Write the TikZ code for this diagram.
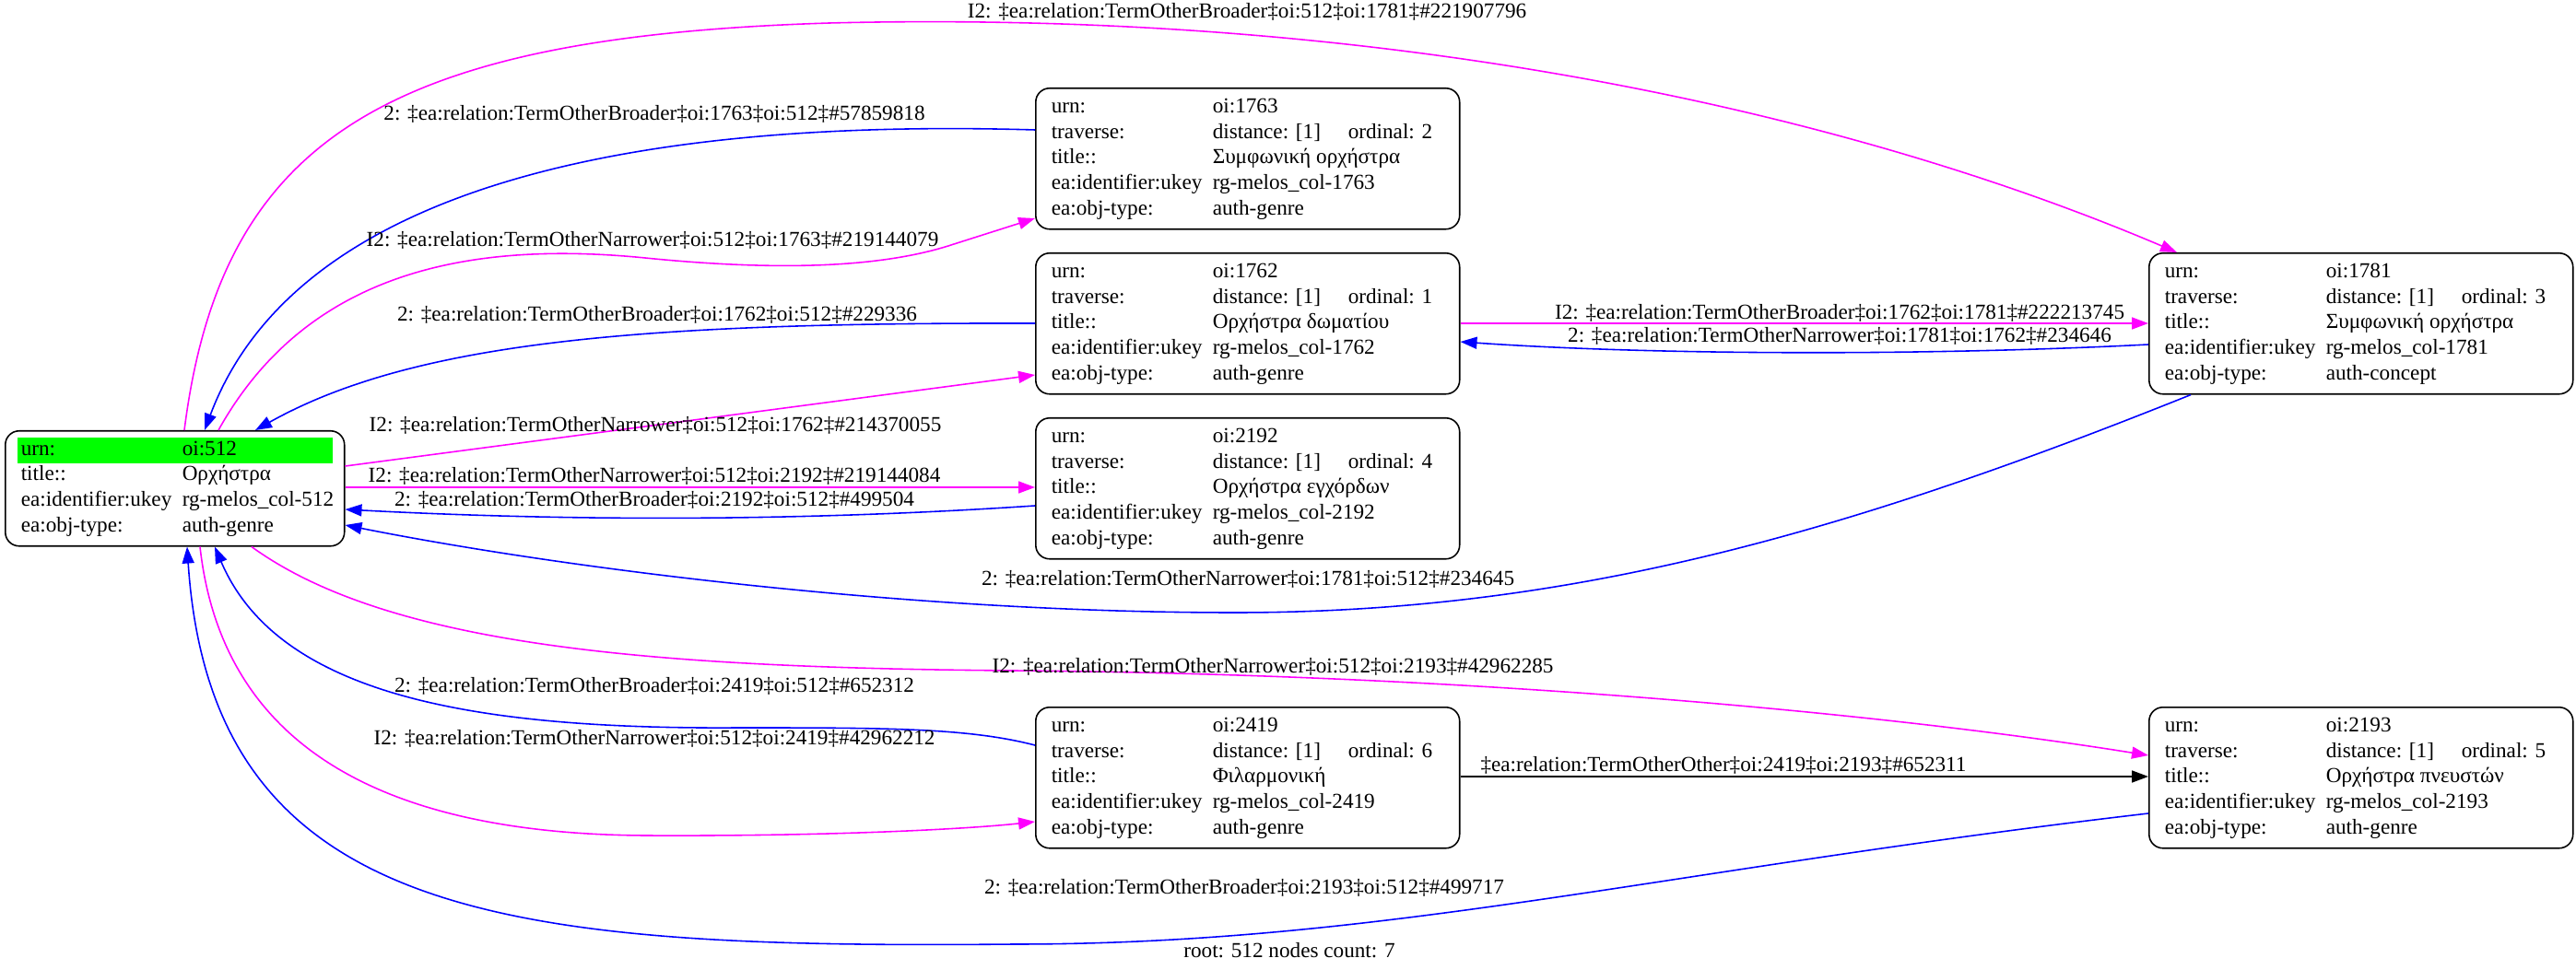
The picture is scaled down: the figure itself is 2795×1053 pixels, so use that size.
\documentclass[tikz,border=0pt]{standalone}
\usepackage{fontspec}
\usepackage{colortbl}
\usetikzlibrary{arrows.meta,calc}
\newfontfamily\recfamily{Liberation Serif}
\newcommand\recfont{\recfamily\fontsize{13.2}{15.8}\selectfont}
\definecolor{hlgreen}{HTML}{00FF00}
\definecolor{narrowc}{HTML}{FF00FF}
\definecolor{broadc}{HTML}{0000FF}
\setlength\tabcolsep{0.08cm}
% rows of one record: urn, ordinal, title, type
\newcommand\recrows[4]{\begin{tabular}{w{l}{3.34cm}w{l}{5.02cm}}
urn: & oi:#1\\
traverse: & \makebox[2.94cm][l]{distance: [1]}ordinal: #2\\
title:: & #3\\
ea:identifier:ukey & rg-melos\_col-#1\\
ea:obj-type: & #4
\end{tabular}}
\begin{document}
\begin{tikzpicture}[x=0.02cm,y=-0.02cm]
	\tikzset{rec/.style = {draw, rounded corners=0.3cm, line width=0.9pt, anchor=north west, inner xsep=0.26cm, inner ysep=0pt, minimum height=3.06cm, font=\recfont}}
	\tikzset{elabel/.style = {font=\recfont, inner sep=0pt}}
	\tikzset{>={Triangle[length=0.36cm,width=0.26cm]}}
	\tikzset{nedge/.style = {->, draw=narrowc, line width=0.9pt}}
	\tikzset{bedge/.style = {->, draw=broadc, line width=0.9pt}}
	\tikzset{oedge/.style = {->, draw=black, line width=0.9pt}}
	\useasboundingbox (0,0) rectangle (2795,1053);
	% records
	\node[rec, minimum height=2.5cm] (root) at (5,467) {\begin{tabular}{w{l}{3.34cm}w{l}{3.18cm}}
		\rowcolor{hlgreen}urn: & oi:512\\
		title:: & Ορχήστρα\\
		ea:identifier:ukey & rg-melos\_col-512\\
		ea:obj-type: & auth-genre
	\end{tabular}};
	\node[rec] (n1763) at (1123,95) {\recrows{1763}{2}{Συμφωνική ορχήστρα}{auth-genre}};
	\node[rec] (n1762) at (1123,274) {\recrows{1762}{1}{Ορχήστρα δωματίου}{auth-genre}};
	\node[rec] (n2192) at (1123,453) {\recrows{2192}{4}{Ορχήστρα εγχόρδων}{auth-genre}};
	\node[rec] (n2419) at (1123,767) {\recrows{2419}{6}{Φιλαρμονική}{auth-genre}};
	\node[rec] (n1781) at (2331,274) {\recrows{1781}{3}{Συμφωνική ορχήστρα}{auth-concept}};
	\node[rec] (n2193) at (2331,767) {\recrows{2193}{5}{Ορχήστρα πνευστών}{auth-genre}};
	% connectors
	\draw[nedge] ($(root.north west)+(195,0)$) .. controls (240,150) and (420,40) .. (900,25) .. controls (1500,10) and (2000,120) .. ($(n1781.north west)+(31,0)$);
	\draw[bedge] ($(n1763.north west)+(0,46)$) .. controls (750,130) and (330,180) .. ($(root.north west)+(217,0)$);
	\draw[nedge] ($(root.north west)+(232,0)$) .. controls (330,300) and (500,260) .. (700,280) .. controls (850,295) and (960,290) .. (1035,265) -- ($(n1763.north west)+(0,142)$);
	\draw[bedge] ($(n1762.north west)+(0,77)$) .. controls (700,350) and (450,370) .. ($(root.north west)+(272,0)$);
	\draw[nedge] ($(root.north east)+(0,39)$) -- ($(n1762.north west)+(0,133)$);
	\draw[nedge] ($(root.north east)+(0,62)$) -- ($(n2192.north west)+(0,76)$);
	\draw[bedge] ($(n2192.north west)+(0,96)$) .. controls (870,566) and (620,566) .. ($(root.north east)+(0,86)$);
	\draw[bedge] ($(n1781.south west)+(46,0)$) .. controls (2000,580) and (1700,665) .. (1340,665) .. controls (980,665) and (600,615) .. ($(root.north east)+(0,103)$);
	\draw[bedge] ($(n1781.north west)+(0,100)$) .. controls (2100,386) and (1800,386) .. ($(n1762.north east)+(0,97)$);
	\draw[nedge] ($(n1762.north east)+(0,77)$) -- ($(n1781.north west)+(0,77)$);
	\draw[nedge] ($(root.south west)+(268,0)$) .. controls (420,700) and (700,725) .. (1100,728) .. controls (1600,732) and (2050,775) .. ($(n2193.north west)+(0,53)$);
	\draw[oedge] ($(n2419.north east)+(0,76)$) -- ($(n2193.north west)+(0,76)$);
	\draw[bedge] ($(n2419.north west)+(0,42)$) .. controls (1050,790) and (960,790) .. (800,790) .. controls (500,792) and (300,750) .. ($(root.south west)+(228,0)$);
	\draw[nedge] ($(root.south west)+(212,0)$) .. controls (240,800) and (400,905) .. (700,907) .. controls (900,908) and (1050,900) .. ($(n2419.north west)+(0,125)$);
	\draw[bedge] ($(n2193.north west)+(0,116)$) .. controls (1800,945) and (1500,1025) .. (1100,1025) .. controls (550,1030) and (230,1000) .. ($(root.south west)+(198,0)$);
	% labels
	\node[elabel] (l1) at (1353,13) {I2: ‡ea:relation:TermOtherBroader‡oi:512‡oi:1781‡\#221907796};
	\node[elabel] (l2) at (710,124) {2: ‡ea:relation:TermOtherBroader‡oi:1763‡oi:512‡\#57859818};
	\node[elabel] (l3) at (708,261) {I2: ‡ea:relation:TermOtherNarrower‡oi:512‡oi:1763‡\#219144079};
	\node[elabel] (l4) at (713,342) {2: ‡ea:relation:TermOtherBroader‡oi:1762‡oi:512‡\#229336};
	\node[elabel] (l5) at (711,462) {I2: ‡ea:relation:TermOtherNarrower‡oi:512‡oi:1762‡\#214370055};
	\node[elabel] (l6) at (710,517) {I2: ‡ea:relation:TermOtherNarrower‡oi:512‡oi:2192‡\#219144084};
	\node[elabel] (l7) at (710,543) {2: ‡ea:relation:TermOtherBroader‡oi:2192‡oi:512‡\#499504};
	\node[elabel] (l8) at (1354,629) {2: ‡ea:relation:TermOtherNarrower‡oi:1781‡oi:512‡\#234645};
	\node[elabel] (l9) at (1996,365) {2: ‡ea:relation:TermOtherNarrower‡oi:1781‡oi:1762‡\#234646};
	\node[elabel] (l10) at (1996,340) {I2: ‡ea:relation:TermOtherBroader‡oi:1762‡oi:1781‡\#222213745};
	\node[elabel] (l11) at (1381,724) {I2: ‡ea:relation:TermOtherNarrower‡oi:512‡oi:2193‡\#42962285};
	\node[elabel] (l12) at (1870,831) {‡ea:relation:TermOtherOther‡oi:2419‡oi:2193‡\#652311};
	\node[elabel] (l13) at (710,745) {2: ‡ea:relation:TermOtherBroader‡oi:2419‡oi:512‡\#652312};
	\node[elabel] (l14) at (710,802) {I2: ‡ea:relation:TermOtherNarrower‡oi:512‡oi:2419‡\#42962212};
	\node[elabel] (l15) at (1350,964) {2: ‡ea:relation:TermOtherBroader‡oi:2193‡oi:512‡\#499717};
	\node[elabel] (count) at (1399,1032) {root: 512 nodes count: 7};
\end{tikzpicture}
\end{document}
